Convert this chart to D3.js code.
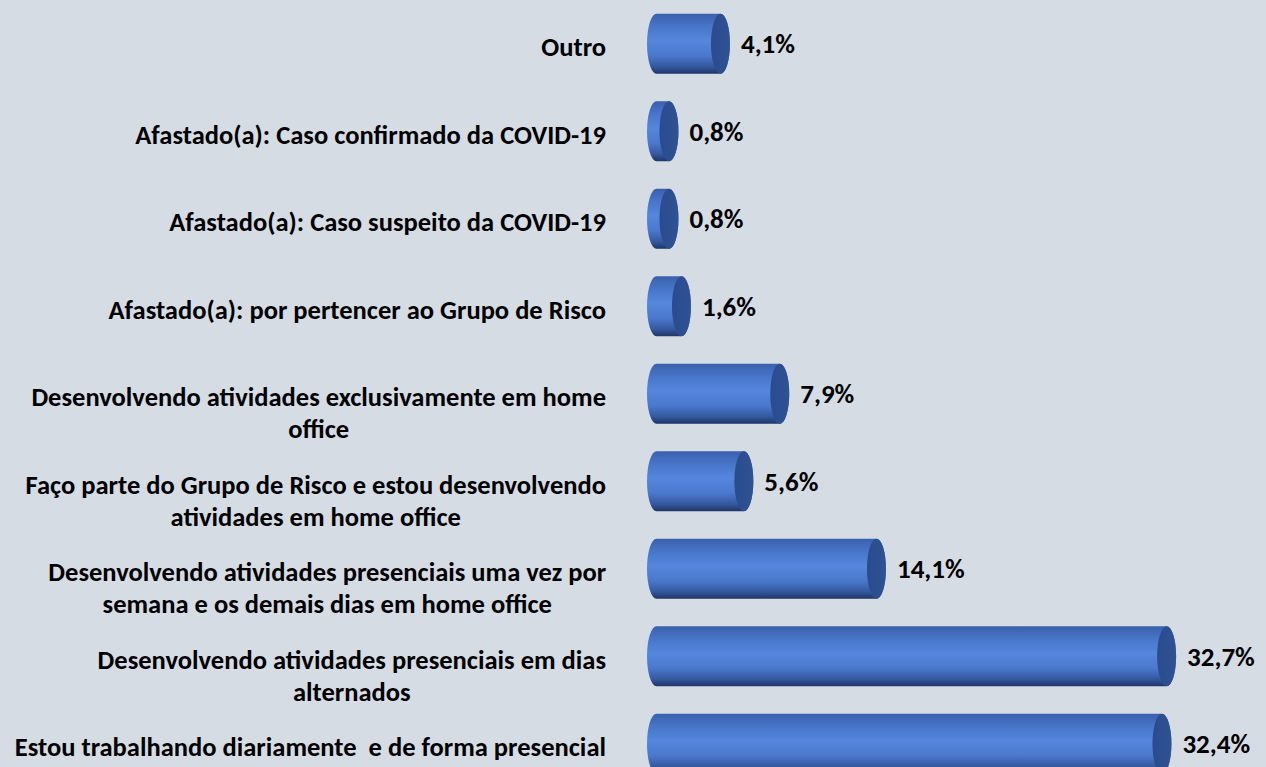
<!DOCTYPE html>
<html>
<head>
<meta charset="utf-8">
<script src="https://cdn.jsdelivr.net/npm/d3@7"></script>
<style>
	html, body { margin: 0; padding: 0; background: #d6dce4; }
	svg { display: block; }
	text { font-family: Carlito, Calibri, Lato, 'Open Sans', sans-serif; font-weight: bold; fill: #000; }
</style>
</head>
<body>
<div id="chart"></div>
<script>
'use strict';

var categories = [
	"Outro",
	"Afastado(a): Caso confirmado da COVID-19",
	"Afastado(a): Caso suspeito da COVID-19",
	"Afastado(a): por pertencer ao Grupo de Risco",
	"Desenvolvendo atividades exclusivamente em home\noffice",
	"Faço parte do Grupo de Risco e estou desenvolvendo\natividades em home office",
	"Desenvolvendo atividades presenciais uma vez por\nsemana e os demais dias em home office",
	"Desenvolvendo atividades presenciais em dias\nalternados",
	"Estou trabalhando diariamente  e de forma presencial",
];
var values = [4.1, 0.8, 0.8, 1.6, 7.9, 5.6, 14.1, 32.7, 32.4];
var valueLabels = ["4,1%", "0,8%", "0,8%", "1,6%", "7,9%", "5,6%", "14,1%", "32,7%", "32,4%"];

var width = 1266, height = 767;

var svg = d3.select('#chart').append('svg')
	.attr('width', width)
	.attr('height', height);

svg.append('rect')
	.attr('width', width)
	.attr('height', height)
	.attr('fill', '#d6dce4');

var defs = svg.append('defs');
var body = defs.append('linearGradient')
	.attr('id', 'cylBody')
	.attr('x1', 0).attr('y1', 0).attr('x2', 0).attr('y2', 1);
[[0, '#3a60ad'], [0.2, '#4774c7'], [0.45, '#5587de'], [0.7, '#4a78cc'], [0.88, '#35589f'], [1, '#1f3566']]
	.forEach(function (s) {
		body.append('stop').attr('offset', s[0]).attr('stop-color', s[1]);
	});
var cap = defs.append('linearGradient')
	.attr('id', 'cylCap')
	.attr('x1', 0).attr('y1', 0).attr('x2', 1).attr('y2', 0);
[[0, '#2a4c8e'], [1, '#2f5294']].forEach(function (s) {
	cap.append('stop').attr('offset', s[0]).attr('stop-color', s[1]);
});

var x = d3.scaleLinear()
	.domain([0, 35])
	.range([656.5, 656.5 + 35 * 15.6]);

var y = d3.scaleBand()
	.domain(categories)
	.range([0, 787.5])
	.paddingInner(0.314)
	.paddingOuter(0.157);

var rx = 9.5;

function cylPath(v, cat) {
	var x0 = x(0), x1 = x(v);
	var top = y(cat), bot = y(cat) + y.bandwidth();
	var ry = y.bandwidth() / 2;
	return 'M' + x0 + ',' + top
		+ 'L' + x1 + ',' + top
		+ 'A' + rx + ',' + ry + ' 0 0 1 ' + x1 + ',' + bot
		+ 'L' + x0 + ',' + bot
		+ 'A' + rx + ',' + ry + ' 0 0 1 ' + x0 + ',' + top
		+ 'Z';
}

var bars = svg.selectAll('g.bar')
	.data(categories)
	.enter()
	.append('g')
		.classed('bar', true);

bars.append('path')
	.attr('d', function (d, i) { return cylPath(values[i], d); })
	.attr('fill', 'url(#cylBody)');

bars.append('ellipse')
	.attr('cx', function (d, i) { return x(values[i]); })
	.attr('cy', function (d) { return y(d) + y.bandwidth() / 2; })
	.attr('rx', rx)
	.attr('ry', y.bandwidth() / 2)
	.attr('fill', 'url(#cylCap)');

svg.selectAll('text.value')
	.data(valueLabels)
	.enter()
	.append('text')
		.classed('value', true)
		.attr('font-size', 27)
		.attr('x', function (d, i) { return x(values[i]) + rx + 11; })
		.attr('y', function (d, i) { return y(categories[i]) + y.bandwidth() / 2; })
		.attr('dy', '0.36em')
		.text(function (d) { return d; });

// category labels: lines centred with each other, block right aligned
var labelRight = 606;
var labels = svg.selectAll('text.cat')
	.data(categories)
	.enter()
	.append('text')
		.classed('cat', true)
		.attr('font-size', 26)
		.attr('text-anchor', 'middle')
		.attr('xml:space', 'preserve');

labels.selectAll('tspan')
	.data(function (d) { return d.split('\n').map(function (t) { return {t: t, cat: d}; }); })
	.enter()
	.append('tspan')
		.text(function (d) { return d.t; });

// fit the font to the width of the reference label line
var ref = labels.nodes()[4].childNodes[0].getComputedTextLength();
labels.attr('font-size', 26 * 575 / ref);

labels.each(function (cat) {
	var spans = d3.select(this).selectAll('tspan');
	var maxW = d3.max(spans.nodes(), function (n) { return n.getComputedTextLength(); });
	var cx = labelRight - maxW / 2;
	var cy = y(cat) + y.bandwidth() / 2;
	spans
		.attr('x', cx)
		.attr('y', function (d, i) { return cy + 3 + i * 32; })
		.attr('dy', '0.35em');
});
</script>
</body>
</html>
